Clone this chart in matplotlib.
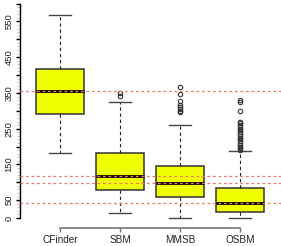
import matplotlib
matplotlib.use("Agg")
from matplotlib import pyplot as plt
import numpy as np

plt.rcParams['font.family'] = ['Liberation Sans', 'DejaVu Sans']

# box statistics
names = ["CFinder", "SBM", "MMSB", "OSBM"]
q1 = [290, 78, 59, 16]
med = [355, 117, 98, 42]
q3 = [416, 181, 145, 85]
whislo = [181, 14, 0, 0]
whishi = [567, 324, 259, 187]
fliers = [
    [],
    [341, 350],
    [297, 300, 306, 312, 316, 328, 347, 367],
    [190, 195, 200, 205, 210, 215, 220, 225, 230, 235, 240, 245, 250,
     255, 260, 265, 270, 299, 325, 330],
]
ref_lines = [355, 117, 98, 42]  # dashed red lines at the medians
ytick_vals = list(range(0, 601, 50))
ytick_labels = ["0", "50", "", "150", "", "250", "", "350", "", "450", "", "550", ""]

stats = []
for i in range(len(names)):
    stats.append(dict(label=names[i], q1=q1[i], med=med[i], q3=q3[i],
                      whislo=whislo[i], whishi=whishi[i], fliers=fliers[i]))

fig = plt.figure(figsize=(2.81, 2.46), dpi=100)
# axes box in pixels: left 20, right 281, top 0, bottom 222
ax = fig.add_axes([20 / 281, (246 - 221.6) / 246, 261 / 281, 221.6 / 246])

ax.bxp(stats, positions=[1, 2, 3, 4], widths=0.8, patch_artist=True,
       capwidths=0.37,
       boxprops=dict(facecolor="#f0ff00", edgecolor="#333333", linewidth=1.1),
       medianprops=dict(color="black", linewidth=2),
       whiskerprops=dict(color="#222222", linestyle=(0, (3, 2.5)), linewidth=0.8),
       capprops=dict(color="#444444", linewidth=1.0),
       flierprops=dict(marker="o", markersize=3.2, markerfacecolor="none",
                       markeredgecolor="#333333", markeredgewidth=0.8))

for v in ref_lines:
    ax.axhline(v, color="#f07878", linestyle=(0, (2.2, 2.2)), linewidth=0.9, zorder=5)

ax.set_xlim(0.333, 4.68)
ax.set_ylim(-10, 610)

for s in ["top", "right"]:
    ax.spines[s].set_visible(False)
ax.spines["left"].set_bounds(0, 600)
ax.spines["left"].set_linewidth(1.0)
ax.spines["bottom"].set_bounds(1, 4)
ax.spines["bottom"].set_position(("outward", 4.6))
ax.spines["bottom"].set_color("#777777")
ax.spines["bottom"].set_linewidth(1.2)

ax.set_yticks(ytick_vals)
ax.set_yticklabels(ytick_labels, rotation=90, va="center", fontsize=6.8, color="#222222")
ax.set_yticks(np.arange(0, 601, 10), minor=True)
ax.tick_params(axis="y", which="major", length=3, width=1, pad=1.5)
ax.tick_params(axis="y", which="minor", length=2.5, width=0.8, color="#cccccc")

ax.set_xticks([1, 2, 3, 4])
ax.set_xticklabels(names, fontsize=7.2, color="#222222")
ax.tick_params(axis="x", length=3, width=1, color="#777777", pad=2)

fig.savefig("out.png", dpi=100)
